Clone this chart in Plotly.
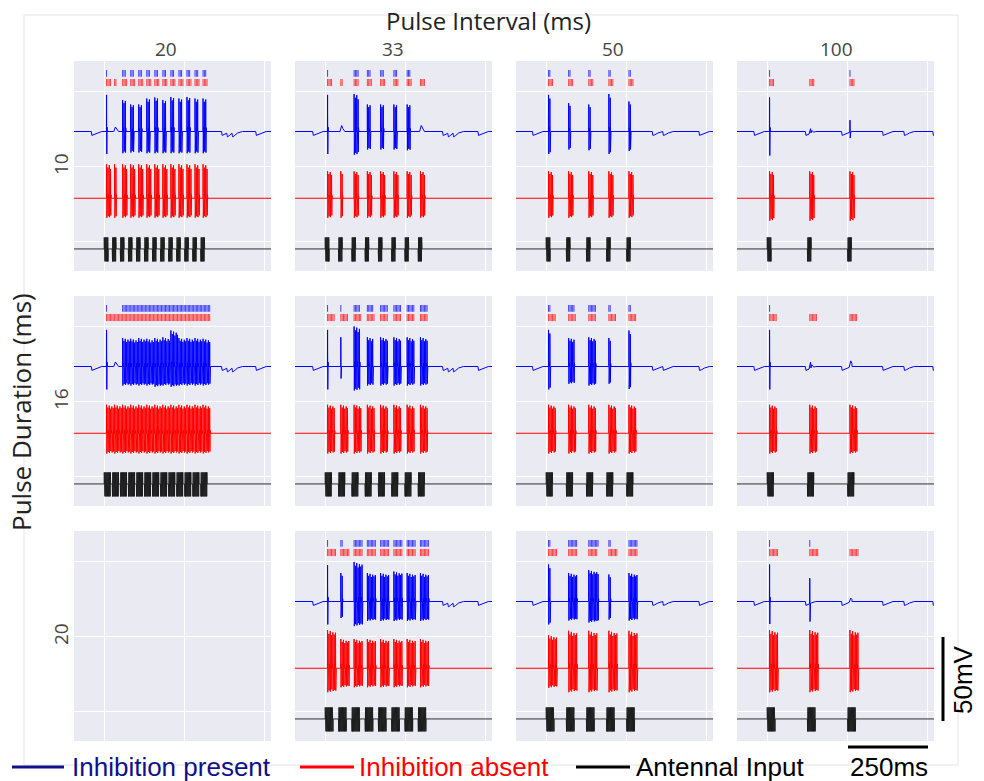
import numpy as np
import plotly.graph_objects as go

# ---------------- data ----------------
PULSE_INTERVALS = [20, 33, 50, 100]          # ms (columns)
PULSE_DURATIONS = [10, 16, 20]               # ms (rows)
COL_LABELS = ["20", "33", "50", "100"]
ROW_LABELS = ["10", "16", "20"]

ONSETS_I20 = [0, 20, 40, 60, 80, 100, 120, 140, 160, 180, 200, 220, 240]
ONSETS_I33 = [0, 33, 66, 99, 132, 165, 198, 231]
ONSETS_I50 = [0, 50, 100, 150, 200]
ONSETS_I100 = [0, 100, 200]

# small spontaneous dips in the "inhibition present" trace (ms)
BLUE_DIPS_I20 = [-32, 292, 305, 318, 377]
BLUE_DIPS_I33 = [-31, 292, 305, 318, 380]
BLUE_DIPS_I50 = [-34, 264, 290, 380]
BLUE_DIPS_I100 = [-33, 95, 185, 287, 340, 412]
DIP_DT = [0, 1.5, 6, 14, 26]
DIP_DV = [0, -2.6, -2.2, -1.0, 0]

# spikes per pulse, spike heights (up) and troughs (down) in trace units
# duration 10 ms
BLUE_N_D10_I20 = [1, 0, 3, 3, 3, 3, 3, 3, 3, 3, 3, 3, 3]
BLUE_UP_D10_I20 = [24.4, 3, 21, 18, 18, 22, 22.7, 21, 23, 22, 23, 22, 22]
BLUE_DN_D10_I20 = [15, 0, 14.5, 14, 14, 14.5, 14.5, 14.5, 14.5, 14.5, 14.5, 14.5, 14.5]
RED_N_D10_I20 = [4, 2, 4, 4, 4, 4, 4, 4, 4, 4, 4, 4, 4]
RED_UP_D10_I20 = [22.7] * 13
RED_DN_D10_I20 = [13] * 13

BLUE_N_D10_I33 = [1, 0, 4, 3, 3, 3, 3, 0]
BLUE_UP_D10_I33 = [24.4, 4, 25, 18, 18, 18, 18, 4]
BLUE_DN_D10_I33 = [15, 0, 15.5, 12, 12, 12, 12.5, 0]
RED_N_D10_I33 = [4, 2, 4, 4, 4, 4, 4, 4]
RED_UP_D10_I33 = [18] * 8
RED_DN_D10_I33 = [13] * 8

BLUE_N_D10_I50 = [2, 2, 2, 2, 2]
BLUE_UP_D10_I50 = [24.4, 19, 18, 25, 20]
BLUE_DN_D10_I50 = [15, 12, 12.5, 15, 13]
RED_N_D10_I50 = [4, 4, 4, 4, 4]
RED_UP_D10_I50 = [18] * 5
RED_DN_D10_I50 = [13] * 5

BLUE_N_D10_I100 = [1, 0, 1]
BLUE_UP_D10_I100 = [22.7, 3, 8]
BLUE_DN_D10_I100 = [16, 0, 4]
RED_N_D10_I100 = [4, 4, 4]
RED_UP_D10_I100 = [18, 18, 18]
RED_DN_D10_I100 = [15, 15, 15]

# duration 16 ms
BLUE_N_D16_I20 = [1, 0, 6, 6, 6, 6, 6, 6, 6, 6, 6, 6, 6]
BLUE_UP_D16_I20 = [24.4, 3, 19, 18.5, 19, 18.5, 19, 19.5, 24, 19, 19, 19, 18.5]
BLUE_DN_D16_I20 = [15.3, 0, 12.7, 12.7, 12.7, 12.7, 13.5, 12.7, 13.5, 12.7, 12.7, 12.7, 12.7]
RED_N_D16_I20 = [6] * 13
RED_UP_D16_I20 = [19] * 13
RED_DN_D16_I20 = [13.5] * 13

BLUE_N_D16_I33 = [1, 1, 5, 5, 6, 6, 6, 6]
BLUE_UP_D16_I33 = [24.4, 19.5, 26.7, 19.5, 19.5, 19.5, 19.5, 19.5]
BLUE_DN_D16_I33 = [15.3, 8, 16, 12.7, 12.7, 12.7, 12.7, 12.7]
RED_N_D16_I33 = [6] * 8
RED_UP_D16_I33 = [19] * 8
RED_DN_D16_I33 = [13.5] * 8

BLUE_N_D16_I50 = [2, 5, 6, 2, 2]
BLUE_UP_D16_I50 = [24.4, 19, 19.5, 19, 24]
BLUE_DN_D16_I50 = [15.3, 11.5, 12.7, 11.5, 15]
RED_N_D16_I50 = [6] * 5
RED_UP_D16_I50 = [19] * 5
RED_DN_D16_I50 = [13.5] * 5

BLUE_N_D16_I100 = [1, 0, 0]
BLUE_UP_D16_I100 = [24.4, 4, 4]
BLUE_DN_D16_I100 = [15.3, 0, 0]
RED_N_D16_I100 = [6, 6, 6]
RED_UP_D16_I100 = [19, 19, 19]
RED_DN_D16_I100 = [13.5, 13.5, 13.5]

# duration 20 ms (no 20 ms interval panel)
BLUE_N_D20_I33 = [1, 2, 7, 7, 7, 7, 7, 7]
BLUE_UP_D20_I33 = [24.2, 19, 26.4, 19, 19, 20, 19, 19]
BLUE_DN_D20_I33 = [15.3, 11, 16.4, 13, 13, 13, 13, 13]
RED_N_D20_I33 = [7] * 8
RED_UP_D20_I33 = [25.5, 19.5, 19.5, 19.5, 19.5, 19.5, 19.5, 19.5]
RED_DN_D20_I33 = [16, 12.7, 12.7, 12.7, 12.7, 12.7, 12.7, 12.7]

BLUE_N_D20_I50 = [2, 7, 8, 2, 7]
BLUE_UP_D20_I50 = [24.7, 19, 21, 18, 19]
BLUE_DN_D20_I50 = [15.3, 12.7, 14, 12, 12.7]
RED_N_D20_I50 = [7] * 5
RED_UP_D20_I50 = [22, 25, 25, 25, 25]
RED_DN_D20_I50 = [13, 16, 16, 16, 16]

BLUE_N_D20_I100 = [1, 1, 0]
BLUE_UP_D20_I100 = [24.7, 17, 2.5]
BLUE_DN_D20_I100 = [15, 12, 0]
RED_N_D20_I100 = [7, 7, 7]
RED_UP_D20_I100 = [25.5, 25.5, 25.5]
RED_DN_D20_I100 = [16, 16, 16]

# relative spike size within a burst
SPIKE_UP_SCALE = [1.0, 0.9, 0.97, 0.86, 0.94, 0.88, 0.93, 0.87]
SPIKE_DN_SCALE = [1.0, 0.92, 0.97, 0.88, 0.95, 0.9, 0.93, 0.89]
SPIKE_LATENCY = 6.0   # ms
SPIKE_ISI = 3.3       # ms
ANTENNA_SWING = [7.7, -8.3]
ANTENNA_STEP = 0.55   # ms

BLUE_BASE, RED_BASE, BLACK_BASE = 73.0, 28.5, -5.3
BLUE_RASTER = (109.5, 114.0)
RED_RASTER = (103.3, 108.0)
X_RANGE = [-75, 415]
Y_RANGE = [-20, 120]

# ---------------- layout geometry (pixels) ----------------
W, H = 984, 781
COL_LEFT = [74, 295, 516, 737]
PANEL_W = 197
ROW_TOP = [61, 296, 531]
PANEL_H = 210

ONSETS = [ONSETS_I20, ONSETS_I33, ONSETS_I50, ONSETS_I100]
DIPS = [BLUE_DIPS_I20, BLUE_DIPS_I33, BLUE_DIPS_I50, BLUE_DIPS_I100]
PANELS = {
    (0, 0): (BLUE_N_D10_I20, BLUE_UP_D10_I20, BLUE_DN_D10_I20, RED_N_D10_I20, RED_UP_D10_I20, RED_DN_D10_I20),
    (0, 1): (BLUE_N_D10_I33, BLUE_UP_D10_I33, BLUE_DN_D10_I33, RED_N_D10_I33, RED_UP_D10_I33, RED_DN_D10_I33),
    (0, 2): (BLUE_N_D10_I50, BLUE_UP_D10_I50, BLUE_DN_D10_I50, RED_N_D10_I50, RED_UP_D10_I50, RED_DN_D10_I50),
    (0, 3): (BLUE_N_D10_I100, BLUE_UP_D10_I100, BLUE_DN_D10_I100, RED_N_D10_I100, RED_UP_D10_I100, RED_DN_D10_I100),
    (1, 0): (BLUE_N_D16_I20, BLUE_UP_D16_I20, BLUE_DN_D16_I20, RED_N_D16_I20, RED_UP_D16_I20, RED_DN_D16_I20),
    (1, 1): (BLUE_N_D16_I33, BLUE_UP_D16_I33, BLUE_DN_D16_I33, RED_N_D16_I33, RED_UP_D16_I33, RED_DN_D16_I33),
    (1, 2): (BLUE_N_D16_I50, BLUE_UP_D16_I50, BLUE_DN_D16_I50, RED_N_D16_I50, RED_UP_D16_I50, RED_DN_D16_I50),
    (1, 3): (BLUE_N_D16_I100, BLUE_UP_D16_I100, BLUE_DN_D16_I100, RED_N_D16_I100, RED_UP_D16_I100, RED_DN_D16_I100),
    (2, 1): (BLUE_N_D20_I33, BLUE_UP_D20_I33, BLUE_DN_D20_I33, RED_N_D20_I33, RED_UP_D20_I33, RED_DN_D20_I33),
    (2, 2): (BLUE_N_D20_I50, BLUE_UP_D20_I50, BLUE_DN_D20_I50, RED_N_D20_I50, RED_UP_D20_I50, RED_DN_D20_I50),
    (2, 3): (BLUE_N_D20_I100, BLUE_UP_D20_I100, BLUE_DN_D20_I100, RED_N_D20_I100, RED_UP_D20_I100, RED_DN_D20_I100),
}


def spike_times(onsets, counts):
    out = []
    for on, n in zip(onsets, counts):
        for k in range(n):
            out.append(on + SPIKE_LATENCY + k * SPIKE_ISI)
    return out


def build_trace(base, onsets, counts, ups, downs, dips):
    pts = [(X_RANGE[0], 0.0), (X_RANGE[1], 0.0)]
    for on, n, u, d in zip(onsets, counts, ups, downs):
        if n == 0:
            if u > 0:
                s = on + SPIKE_LATENCY
                pts += [(s - 2, 0), (s + 2, u), (s + 5, 0.5 * u), (s + 10, 0)]
            continue
        for k in range(n):
            s = on + SPIKE_LATENCY + k * SPIKE_ISI
            uk = u * SPIKE_UP_SCALE[k % len(SPIKE_UP_SCALE)]
            dk = d * SPIKE_DN_SCALE[k % len(SPIKE_DN_SCALE)]
            pts += [(s - 0.3, 0), (s, uk), (s + 0.6, -dk), (s + 1.2, 0.12 * uk),
                    (s + 2.0, 0)]
    for td in dips:
        for dt in DIP_DT:
            pts.append((td + dt, 0.0))
    pts.sort(key=lambda p: p[0])
    t = np.array([p[0] for p in pts])
    off = np.array([p[1] for p in pts])
    b = np.full_like(t, base)
    for td in dips:
        b += np.interp(t, np.array(DIP_DT) + td, DIP_DV, left=0, right=0)
    return t, b + off


def build_antenna(onsets, dur):
    xs, ys = [X_RANGE[0]], [BLACK_BASE]
    for on in onsets:
        xs.append(on)
        ys.append(BLACK_BASE)
        k = 0
        t = on + ANTENNA_STEP / 2
        while t < on + dur:
            xs.append(t)
            ys.append(BLACK_BASE + ANTENNA_SWING[k % 2])
            k += 1
            t += ANTENNA_STEP
        xs.append(on + dur)
        ys.append(BLACK_BASE)
    xs.append(X_RANGE[1])
    ys.append(BLACK_BASE)
    return xs, ys


def raster(times, lo, hi):
    xs, ys = [], []
    for s in times:
        xs += [s, s, None]
        ys += [lo, hi, None]
    return xs, ys


fig = go.Figure()
layout = dict()
for r in range(3):
    for c in range(4):
        k = r * 4 + c + 1
        xa = "x" if k == 1 else f"x{k}"
        ya = "y" if k == 1 else f"y{k}"
        l = COL_LEFT[c]
        top = ROW_TOP[r]
        layout["xaxis" if k == 1 else f"xaxis{k}"] = dict(
            domain=[l / W, (l + PANEL_W) / W], anchor=ya, range=X_RANGE,
            tick0=0, dtick=200, showticklabels=False, ticks="", zeroline=False,
            showline=False, gridcolor="white", gridwidth=1, fixedrange=True)
        layout["yaxis" if k == 1 else f"yaxis{k}"] = dict(
            domain=[(H - top - PANEL_H) / H, (H - top) / H], anchor=xa, range=Y_RANGE,
            tick0=0, dtick=50, showticklabels=False, ticks="", zeroline=False,
            showline=False, gridcolor="white", gridwidth=1, fixedrange=True)
        if (r, c) not in PANELS:
            fig.add_trace(go.Scatter(x=[None], y=[None], xaxis=xa, yaxis=ya,
                                     showlegend=False, hoverinfo="skip"))
            continue
        bn, bu, bd, rn, ru, rd = PANELS[(r, c)]
        onsets = ONSETS[c]
        dur = PULSE_DURATIONS[r]
        # antenna input
        ax_, ay_ = build_antenna(onsets, dur)
        fig.add_trace(go.Scatter(x=ax_, y=ay_, mode="lines", xaxis=xa, yaxis=ya,
                                 line=dict(color="#1a1a1a", width=0.9), showlegend=False,
                                 hoverinfo="skip"))
        # inhibition absent
        tx, ty = build_trace(RED_BASE, onsets, rn, ru, rd, [])
        fig.add_trace(go.Scatter(x=tx, y=ty, mode="lines", xaxis=xa, yaxis=ya,
                                 line=dict(color="#ff0000", width=1), showlegend=False,
                                 hoverinfo="skip"))
        # inhibition present
        tx, ty = build_trace(BLUE_BASE, onsets, bn, bu, bd, DIPS[c])
        fig.add_trace(go.Scatter(x=tx, y=ty, mode="lines", xaxis=xa, yaxis=ya,
                                 line=dict(color="#0000ff", width=1), showlegend=False,
                                 hoverinfo="skip"))
        # rasters
        rx, ry = raster(spike_times(onsets, bn), *BLUE_RASTER)
        fig.add_trace(go.Scatter(x=rx, y=ry, mode="lines", xaxis=xa, yaxis=ya,
                                 line=dict(color="rgba(20,20,255,0.8)", width=1),
                                 showlegend=False, hoverinfo="skip"))
        rx, ry = raster(spike_times(onsets, rn), *RED_RASTER)
        fig.add_trace(go.Scatter(x=rx, y=ry, mode="lines", xaxis=xa, yaxis=ya,
                                 line=dict(color="rgba(255,20,20,0.8)", width=1),
                                 showlegend=False, hoverinfo="skip"))


def px(x):
    return x / W


def py(y):
    return (H - y) / H


annotations = []
shapes = []
TITLE_FONT = "Open Sans, Roboto, sans-serif"
NARROW_FONT = "Liberation Sans Narrow, Arial Narrow, sans-serif"

annotations.append(dict(text="Pulse Interval (ms)", x=px(488), y=py(20), xref="paper", yref="paper",
                        showarrow=False, borderpad=0,
                        font=dict(family=TITLE_FONT, size=24, color="#222222"),
                        xanchor="center", yanchor="middle"))
annotations.append(dict(text="Pulse Duration (ms)", x=px(21), y=py(412), xref="paper", yref="paper",
                        showarrow=False, textangle=-90, borderpad=0,
                        font=dict(family=TITLE_FONT, size=26, color="#222222"),
                        xanchor="center", yanchor="middle"))
COL_LABEL_X = [166, 393, 613, 836]
for c, lab in enumerate(COL_LABELS):
    annotations.append(dict(text=lab, x=px(COL_LABEL_X[c]), y=py(49), xref="paper",
                            yref="paper", showarrow=False, borderpad=0,
                            font=dict(family=TITLE_FONT, size=19, color="#444444"),
                            xanchor="center", yanchor="middle"))
for r, lab in enumerate(ROW_LABELS):
    annotations.append(dict(text=lab, x=px(61), y=py(ROW_TOP[r] + PANEL_H / 2 - 2), xref="paper",
                            yref="paper", showarrow=False, textangle=-90, borderpad=0,
                            font=dict(family=TITLE_FONT, size=19, color="#444444"),
                            xanchor="center", yanchor="middle"))

# outer frame
shapes.append(dict(type="rect", xref="paper", yref="paper", x0=px(24), x1=px(958),
                   y0=py(765), y1=py(15), line=dict(color="#e4e4e4", width=1)))

# legend (lines + coloured labels)
LEGEND = [("Inhibition present", "#101088", 12, 64, 71),
          ("Inhibition absent", "#ff0000", 300, 354, 358),
          ("Antennal Input", "#000000", 576, 630, 635)]
for name, col, x0, x1, tx in LEGEND:
    shapes.append(dict(type="line", xref="paper", yref="paper", x0=px(x0), x1=px(x1),
                       y0=py(767), y1=py(767), line=dict(color=col, width=3)))
    annotations.append(dict(text=name, x=px(tx), y=py(767), xref="paper", yref="paper",
                            showarrow=False, xanchor="left", yanchor="middle", borderpad=0,
                            font=dict(family=NARROW_FONT, size=26, color=col)))

# scale bars
shapes.append(dict(type="line", xref="paper", yref="paper", x0=px(848), x1=px(928),
                   y0=py(747), y1=py(747), line=dict(color="black", width=3)))
annotations.append(dict(text="250ms", x=px(889), y=py(767), xref="paper", yref="paper",
                        showarrow=False, xanchor="center", yanchor="middle", borderpad=0,
                        font=dict(family=NARROW_FONT, size=26, color="#000000")))
shapes.append(dict(type="line", xref="paper", yref="paper", x0=px(943), x1=px(943),
                   y0=py(637), y1=py(721), line=dict(color="black", width=3)))
annotations.append(dict(text="50mV", x=px(963), y=py(680), xref="paper", yref="paper",
                        showarrow=False, textangle=-90, xanchor="center", yanchor="middle",
                        borderpad=0,
                        font=dict(family=NARROW_FONT, size=26, color="#000000")))

fig.update_layout(
    width=W, height=H, margin=dict(l=0, r=0, t=0, b=0),
    paper_bgcolor="white", plot_bgcolor="#EAEAF2",
    showlegend=False, annotations=annotations, shapes=shapes,
    **layout)

fig.write_html("out.html")
